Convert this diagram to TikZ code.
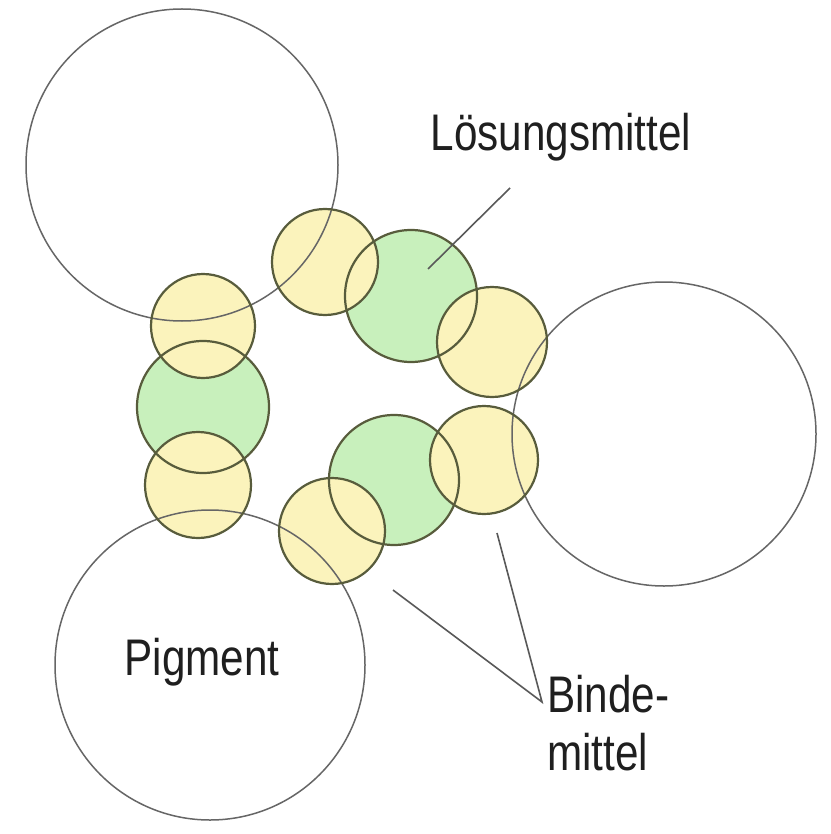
\documentclass[tikz,border=0pt]{standalone}
\usepackage{fontspec}
\setmainfont{Liberation Sans}
\definecolor{binderY}{RGB}{251,243,188}
\definecolor{solvG}{RGB}{200,240,188}
\definecolor{smallS}{RGB}{88,92,60}
\begin{document}
\begin{tikzpicture}[x=1pt,y=-1pt,
  bigline/.style={draw=black!60,line width=1.5pt},
  smallline/.style={draw=smallS,line width=2.2pt},
  yfill/.style={circle,inner sep=0pt,fill=binderY,draw=none},
  gfill/.style={circle,inner sep=0pt,fill=solvG,draw=none},
  bigc/.style={circle,inner sep=0pt,draw=none},
  lbl/.style={font=\fontsize{44}{58}\selectfont,text=black!88,inner sep=0pt,xscale=0.96,yscale=1.17,transform shape},
  leader/.style={draw=black!65,line width=1.6pt}]
\useasboundingbox (0,0) rectangle (830,834);
\fill[white] (0,0) rectangle (830,834);
% big pigment circles
\node[bigc,minimum size=312pt] (p1) at (182,165) {};
\node[bigc,minimum size=304pt] (p2) at (664,434) {};
\node[bigc,minimum size=310pt] (p3) at (210,665) {};
% green solvent circles
\node[gfill,minimum size=132pt] (g1) at (411,296) {};
\node[gfill,minimum size=132pt] (g2) at (203,407) {};
\node[gfill,minimum size=130pt] (g3) at (394,480) {};
% yellow binder circles
\node[yfill,minimum size=106pt] (y1) at (325,262) {};
\node[yfill,minimum size=110pt] (y2) at (492,342) {};
\node[yfill,minimum size=104pt] (y3) at (203,326) {};
\node[yfill,minimum size=106pt] (y4) at (198,485) {};
\node[yfill,minimum size=106pt] (y5) at (332,531) {};
\node[yfill,minimum size=108pt] (y6) at (484,460) {};
% outlines on top
\draw[bigline] (p1.center) circle (156);
\draw[bigline] (p2.center) circle (152);
\draw[bigline] (p3.center) circle (155);
\draw[smallline] (g1.center) circle (66);
\draw[smallline] (g2.center) circle (66);
\draw[smallline] (g3.center) circle (65);
\draw[smallline] (y1.center) circle (53);
\draw[smallline] (y2.center) circle (55);
\draw[smallline] (y3.center) circle (52);
\draw[smallline] (y4.center) circle (53);
\draw[smallline] (y5.center) circle (53);
\draw[smallline] (y6.center) circle (54);
% labels
\node[lbl] (ls) at (561,137) {Lösungsmittel};
\node[lbl] (pg) at (202,662) {Pigment};
\node[lbl,anchor=base west] (bd) at (547,712) {Binde-};
\node[lbl,anchor=base west] (mt) at (547,770) {mittel};
% leaders
\coordinate (lsA) at (510,188);
\coordinate (lsB) at (428,269);
\coordinate (bdA) at (393,590);
\coordinate (bdB) at (497,533);
\coordinate (bdM) at (542,702);
\draw[leader] (lsA) -- (lsB);
\draw[leader] (bdA) -- (bdM) -- (bdB);
\end{tikzpicture}
\end{document}
